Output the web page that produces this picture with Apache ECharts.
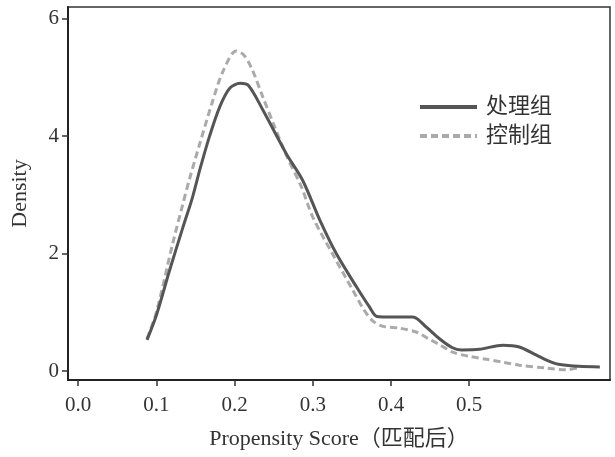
<!DOCTYPE html>
<html><head><meta charset="utf-8">
<script src="https://cdn.jsdelivr.net/npm/echarts@6/dist/echarts.min.js"></script>
<style>html,body{margin:0;padding:0;background:#fff}#c{width:615px;height:457px}</style>
</head><body><div id="c"></div>
<script>
var seriesNames = ['处理组', '控制组'];
var treatX = [0.088,0.100,0.117,0.134,0.146,0.156,0.168,0.181,0.194,0.207,0.218,0.236,0.252,0.267,0.287,0.309,0.330,0.356,0.372,0.382,0.402,0.428,0.445,0.462,0.478,0.490,0.513,0.543,0.564,0.586,0.605,0.616,0.640,0.667];
var treatY = [0.53,0.95,1.72,2.45,2.95,3.45,4.0,4.5,4.82,4.90,4.86,4.45,4.05,3.68,3.25,2.57,2.0,1.43,1.1,0.93,0.92,0.92,0.75,0.55,0.40,0.36,0.37,0.44,0.41,0.27,0.15,0.11,0.08,0.07];
var ctrlX = [0.088,0.100,0.121,0.133,0.143,0.155,0.172,0.185,0.202,0.212,0.222,0.236,0.250,0.267,0.285,0.300,0.325,0.351,0.365,0.377,0.390,0.411,0.433,0.448,0.462,0.479,0.500,0.522,0.543,0.564,0.599,0.624,0.638];
var ctrlY = [0.55,1.0,2.18,2.8,3.3,3.85,4.6,5.1,5.45,5.38,5.15,4.67,4.2,3.65,3.15,2.62,2.0,1.38,1.05,0.85,0.76,0.73,0.66,0.55,0.45,0.32,0.25,0.2,0.15,0.1,0.05,0.02,0.05];
var xTicks = [0.0,0.1,0.2,0.3,0.4,0.5];
var yTicks = [0,2,4,6];
var xTitle = 'Propensity Score（匹配后）';
var yTitle = 'Density';

function pairs(xs, ys){ return xs.map(function(x,i){return [x, ys[i]];}); }
var font = 'Liberation Serif, Noto Sans CJK SC, serif';
var chart = echarts.init(document.getElementById('c'));
chart.setOption({
  backgroundColor: '#fff',
  animation: false,
  grid: {left: 68, right: 5, top: 7, bottom: 77, show: true, borderColor: '#333', borderWidth: 1.5},
  legend: {
    left: 418, top: 96, padding: 0, orient: 'vertical', itemWidth: 57, itemHeight: 14, itemGap: 7,
    itemStyle: {color: 'rgba(0,0,0,0)', borderWidth: 0, opacity: 0},
    lineStyle: {width: 4},
    textStyle: {fontFamily: font, fontSize: 22, color: '#333', padding: [0,0,0,4]},
    data: seriesNames
  },
  xAxis: {
    type: 'value', min: -0.013, max: 0.68,
    name: xTitle, nameLocation: 'middle', nameGap: 48,
    nameTextStyle: {fontFamily: font, fontSize: 22, color: '#333'},
    axisLine: {show: true, onZero: false, lineStyle: {color: '#222', width: 2}},
    axisTick: {show: true, length: 6, customValues: xTicks, lineStyle: {color: '#333', width: 1.5}},
    axisLabel: {customValues: xTicks, margin: 15, fontFamily: font, fontSize: 21, color: '#333',
      formatter: function(v){ return v.toFixed(1); }},
    splitLine: {show: false}
  },
  yAxis: {
    type: 'value', min: -0.153, max: 6.2,
    name: yTitle, nameLocation: 'middle', nameGap: 37,
    nameTextStyle: {fontFamily: font, fontSize: 22, color: '#333'},
    axisLine: {show: true, onZero: false, lineStyle: {color: '#222', width: 2}},
    axisTick: {show: true, length: 6, customValues: yTicks, lineStyle: {color: '#333', width: 1.5}},
    axisLabel: {customValues: yTicks, margin: 9, fontFamily: font, fontSize: 21, color: '#333'},
    splitLine: {show: false}
  },
  series: [
    {name: seriesNames[0], type: 'line', symbol: 'none', smooth: 0.3, data: pairs(treatX, treatY),
     lineStyle: {color: '#555', width: 3}, itemStyle: {color: '#555'}, z: 3},
    {name: seriesNames[1], type: 'line', symbol: 'none', smooth: 0.3, data: pairs(ctrlX, ctrlY),
     lineStyle: {color: '#aaa', width: 3, type: [7, 4]}, itemStyle: {color: '#aaa'}, z: 2}
  ]
});
</script></body></html>
